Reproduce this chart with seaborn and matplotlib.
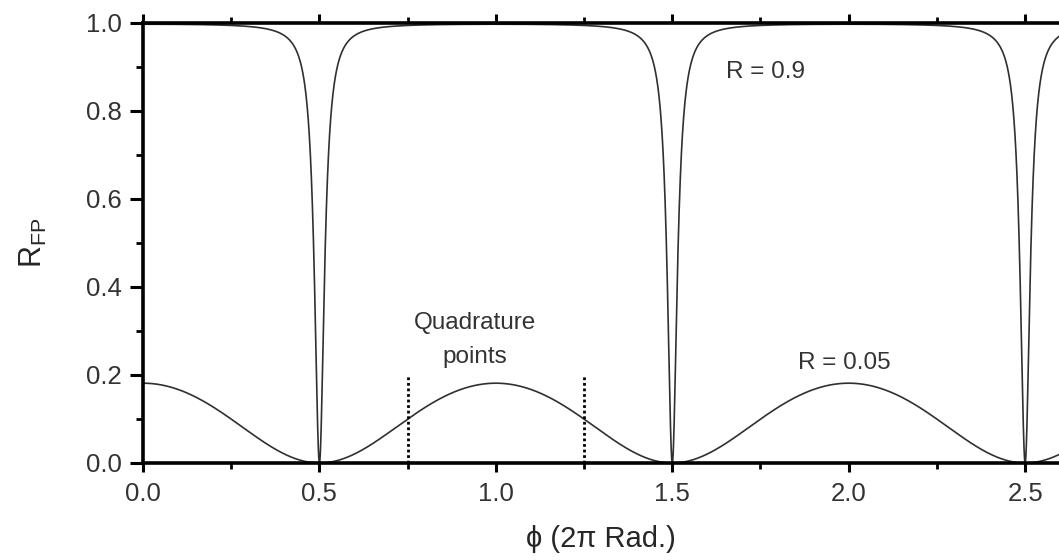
import numpy as np
import pandas as pd
import matplotlib
matplotlib.use("Agg")
import matplotlib.pyplot as plt
from matplotlib.ticker import MultipleLocator
import seaborn as sns

# Mirror reflectivities of the two Fabry-Perot cavities (as labelled)
mirror_R = [0.9, 0.05]
curve_labels = ["R = 0.9", "R = 0.05"]
# Quadrature points of the low-finesse cavity (phase in units of 2π)
quadrature_phi = [0.75, 1.25]
quadrature_top = 0.2
# Axis ticks
x_ticks = [0.0, 0.5, 1.0, 1.5, 2.0, 2.5]
y_ticks = [0.0, 0.2, 0.4, 0.6, 0.8, 1.0]

phi = np.linspace(0.0, 2.6, 26001)


def airy_reflectance(phase, r):
    """Reflected intensity of a lossless Fabry-Perot cavity."""
    coeff = 4.0 * r / (1.0 - r) ** 2
    s = coeff * np.cos(np.pi * phase) ** 2
    return s / (1.0 + s)


frames = []
for r, lab in zip(mirror_R, curve_labels):
    frames.append(pd.DataFrame({"phi": phi, "R_FP": airy_reflectance(phi, r), "curve": lab}))
df = pd.concat(frames, ignore_index=True)

sns.set_theme(style="ticks")
plt.rcParams["font.family"] = ["Liberation Sans", "DejaVu Sans"]
plt.rcParams["text.color"] = "#333333"
plt.rcParams["xtick.color"] = "black"
plt.rcParams["ytick.color"] = "black"
plt.rcParams["xtick.labelcolor"] = "#333333"
plt.rcParams["ytick.labelcolor"] = "#333333"

fig = plt.figure(figsize=(10.59, 5.60), dpi=100)
ax = fig.add_axes([143 / 1059, 1 - 463 / 560, 1 - 143 / 1059, 440 / 560])

sns.lineplot(data=df, x="phi", y="R_FP", hue="curve", units="curve",
             estimator=None, palette=["#303030", "#303030"], linewidth=1.2,
             legend=False, ax=ax, sort=False)

for q in quadrature_phi:
    ax.plot([q, q], [0.0, quadrature_top], color="black", linestyle=(0, (1, 1)),
            linewidth=2.0)

ax.set_xlim(0.0, 2.596)
ax.set_ylim(0.0, 1.0)
ax.set_xticks(x_ticks)
ax.set_yticks(y_ticks)
ax.set_xticklabels([f"{v:.1f}" for v in x_ticks])
ax.set_yticklabels([f"{v:.1f}" for v in y_ticks])
ax.xaxis.set_minor_locator(MultipleLocator(0.25))
ax.yaxis.set_minor_locator(MultipleLocator(0.1))

for side in ["left", "bottom", "top"]:
    ax.spines[side].set_linewidth(2.6)
    ax.spines[side].set_color("black")
ax.spines["right"].set_visible(False)

ax.tick_params(axis="x", which="major", direction="out", length=6.5, width=2.2,
               top=True, bottom=True, labeltop=False, labelsize=18.5, pad=7)
ax.tick_params(axis="x", which="minor", direction="out", length=4, width=2.0,
               top=True, bottom=True)
ax.tick_params(axis="y", which="major", direction="out", length=9.5, width=2.2,
               right=False, labelsize=18.5, pad=6)
ax.tick_params(axis="y", which="minor", direction="out", length=5, width=2.0,
               right=False)

ax.set_xlabel("ϕ (2π Rad.)", fontsize=21, labelpad=14)
ax.set_ylabel(r"R$_{\mathregular{FP}}$", fontsize=22, labelpad=26)

ax.text(1.652, 0.889, curve_labels[0], fontsize=17.5, ha="left", va="center")
ax.text(1.857, 0.227, curve_labels[1], fontsize=17.5, ha="left", va="center")
ax.text(0.941, 0.318, "Quadrature", fontsize=17.5, ha="center", va="center")
ax.text(0.941, 0.241, "points", fontsize=17.5, ha="center", va="center")

fig.savefig("out.png", dpi=100)
